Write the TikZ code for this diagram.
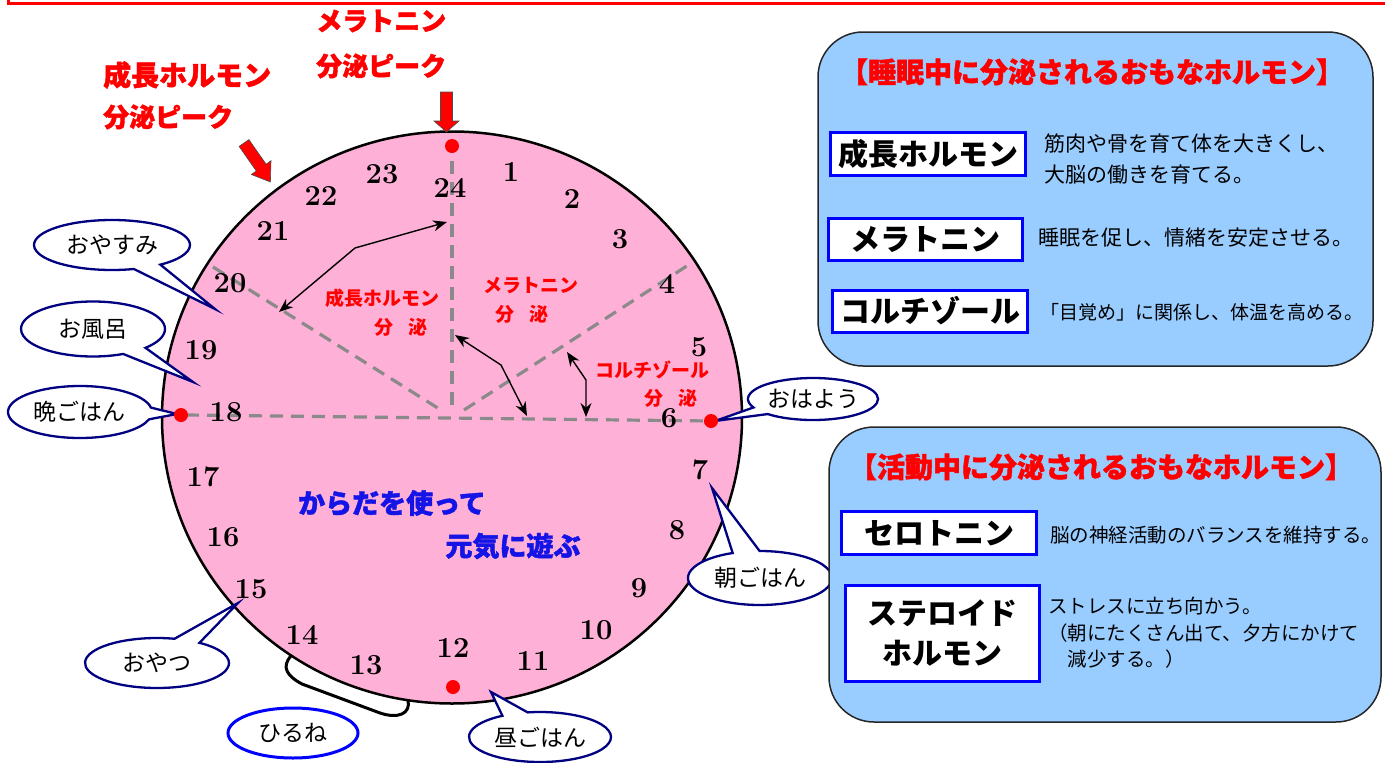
\documentclass[tikz,border=0pt]{standalone}
\usepackage{fontspec}
\newfontfamily\jp{Noto Sans CJK JP}
\newfontfamily\jph{Noto Sans CJK JP}[BoldFeatures={FakeBold=1.5}]
\usetikzlibrary{shapes.callouts,shapes.geometric,arrows.meta}
\definecolor{pinkfill}{RGB}{255,176,215}
\definecolor{navyb}{RGB}{0,0,128}
\definecolor{boxblue}{RGB}{153,204,255}
\definecolor{lblue}{RGB}{0,0,255}
\definecolor{dgray}{RGB}{138,138,138}
\definecolor{txtblue}{RGB}{20,20,230}
\definecolor{tred}{RGB}{255,0,0}
\begin{document}
\begin{tikzpicture}[x=1pt,y=-1pt,
  num/.style={font=\fontsize{29}{32}\selectfont\bfseries, inner sep=0pt},
  sector/.style={dgray, line width=3.2pt, dash pattern=on 13pt off 8pt},
  dblarrow/.style={black, line width=1.4pt, {Stealth[length=14pt,width=11pt]}-{Stealth[length=14pt,width=11pt]}},
  inlbl/.style={tred, font=\jp\bfseries\fontsize{19}{22}\selectfont, inner sep=0pt},
  redtitle/.style={tred, font=\jph\bfseries\fontsize{26}{30}\selectfont, inner sep=0pt, anchor=west},
  bubble/.style={ellipse callout, draw=navyb, fill=white, line width=2.3pt, callout pointer arc=22,
     font=\jp\fontsize{23}{26}\selectfont, inner sep=0pt},
  reddot/.style={circle, fill=tred, minimum size=14pt, inner sep=0pt},
  panel/.style={draw=black!85, fill=boxblue, line width=1.5pt, rounded corners=45pt},
  lbox/.style={draw=lblue, fill=white, line width=3pt, font=\jp\bfseries\fontsize{30}{34}\selectfont, inner sep=0pt},
  desc/.style={font=\jp\fontsize{21}{31}\selectfont, inner sep=0pt, anchor=west, align=left},
  ptitle/.style={tred, font=\jph\bfseries\fontsize{28}{30}\selectfont, inner sep=0pt}
]
\useasboundingbox (0,0) rectangle (1385,763);
% top red frame line
\draw[tred, line width=3pt] (8,0) -- (8,3) -- (1385,3);

% clock face
\draw[fill=pinkfill, line width=2.5pt] (452,417.5) ellipse [x radius=290pt, y radius=286pt];

% sector dashed lines
\draw[sector] (452,140) -- (452,410);
\draw[sector] (186,415) -- (711,421);
\draw[sector] (213,267) -- (441,410);
\draw[sector] (464,410) -- (693,262);

% double arrows
\coordinate (gh1) at (447,222); \coordinate (ghm) at (355,248); \coordinate (gh2) at (279,312);
\coordinate (me1) at (455,335); \coordinate (mem) at (501,365); \coordinate (me2) at (527,416);
\coordinate (co1) at (567,352); \coordinate (com) at (586,380); \coordinate (co2) at (586,417);
\draw[dblarrow] (gh1) -- (ghm) -- (gh2);
\draw[dblarrow] (me1) -- (mem) -- (me2);
\draw[dblarrow] (co1) -- (com) -- (co2);

% hour numbers
\node[num] (h24) at (450,188) {24};
\node[num] (h1) at (511,172) {1};
\node[num] (h2) at (572,199) {2};
\node[num] (h3) at (620,239) {3};
\node[num] (h4) at (667,284) {4};
\node[num] (h5) at (699,347) {5};
\node[num] (h6) at (669,418) {6};
\node[num] (h7) at (700,470) {7};
\node[num] (h8) at (677,530) {8};
\node[num] (h9) at (639,588) {9};
\node[num] (h10) at (596,630) {10};
\node[num] (h11) at (533,661) {11};
\node[num] (h12) at (453,648) {12};
\node[num] (h13) at (366,665) {13};
\node[num] (h14) at (302,635) {14};
\node[num] (h15) at (251,589) {15};
\node[num] (h16) at (223,537) {16};
\node[num] (h17) at (203,477) {17};
\node[num] (h18) at (226,412) {18};
\node[num] (h19) at (201,350) {19};
\node[num] (h20) at (230,283) {20};
\node[num] (h21) at (273,231) {21};
\node[num] (h22) at (321,196) {22};
\node[num] (h23) at (382,174) {23};

% labels inside clock
\node[inlbl] (lgh) at (382,298) {成長ホルモン};
\node[inlbl] (lgh2) at (401,327) {分\hspace{0.8em}泌};
\node[inlbl] (lme) at (531,286) {メラトニン};
\node[inlbl] (lme2) at (522,314) {分\hspace{0.8em}泌};
\node[inlbl] (lco) at (652,370) {コルチゾール};
\node[inlbl] (lco2) at (671,398) {分\hspace{0.8em}泌};
\node[txtblue, font=\jph\bfseries\fontsize{27}{30}\selectfont, inner sep=0pt] (play1) at (392,503) {からだを使って};
\node[txtblue, font=\jph\bfseries\fontsize{27}{30}\selectfont, inner sep=0pt] (play2) at (513,546) {元気に遊ぶ};

% red block arrows
\draw[fill=tred, draw=black!70, line width=0.6pt] (440.5,92) -- (452.5,92) -- (452.5,121) -- (459,121) -- (446.5,132) -- (434,121) -- (440.5,121) -- cycle;
\draw[fill=tred, draw=black!70, line width=0.6pt] (248.9,139.6) -- (266.1,164.2) -- (271.0,160.7) -- (270.4,182) -- (251.4,174.5) -- (256.3,171.0) -- (239.1,146.4) -- cycle;

% red peak titles
\node[redtitle] (tme1) at (316,21) {メラトニン};
\node[redtitle] (tme2) at (316,66) {分泌ピーク};
\node[redtitle, font=\jph\bfseries\fontsize{28}{30}\selectfont] (tgh1) at (103,75) {成長ホルモン};
\node[redtitle] (tgh2) at (103,117) {分泌ピーク};

% nap bracket
\draw[black, line width=3pt, line join=round] (291,656) .. controls (281,667) and (287,676) .. (302,684) -- (380,713) .. controls (398,719) and (411,714) .. (408,700);

% speech bubbles
\node[bubble, minimum width=156pt, minimum height=50pt, callout absolute pointer={(215,309)}] (oyasumi) at (112,245) {おやすみ};
\node[bubble, minimum width=144pt, minimum height=55pt, callout absolute pointer={(193,382)}] (ofuro) at (93,329) {お風呂};
\node[bubble, minimum width=144pt, minimum height=52pt, callout absolute pointer={(177,414)}, callout pointer arc=26] (ban) at (80,412) {晩ごはん};
\node[bubble, minimum width=118pt, minimum height=42pt, callout absolute pointer={(715,421)}] (ohayo) at (813,399) {おはよう};
\node[bubble, minimum width=144pt, minimum height=54pt, callout absolute pointer={(712,488)}] (asa) at (760,578) {朝ごはん};
\node[bubble, minimum width=144pt, minimum height=50pt, callout absolute pointer={(238,603)}] (oyatsu) at (157,663) {おやつ};
\node[bubble, minimum width=142pt, minimum height=50pt, callout absolute pointer={(491,692)}] (hiru) at (540,737) {昼ごはん};
\node[ellipse, draw=lblue, fill=white, line width=3pt, minimum width=130pt, minimum height=50pt, inner sep=0pt, font=\jp\fontsize{23}{26}\selectfont] (hirune) at (293,733) {ひるね};

% red dots
\node[reddot] (d24) at (452,146) {};
\node[reddot] (d18) at (181,415) {};
\node[reddot] (d6) at (711,421) {};
\node[reddot] (d12) at (453,687) {};

% right panel 1
\draw[panel] (818,32) rectangle (1373,366);
\node[ptitle] (p1t) at (1092,72) {【睡眠中に分泌されるおもなホルモン】};
\node[lbox, minimum width=195pt, minimum height=43pt] (bgh) at (928,154) {成長ホルモン};
\node[desc] (dgh) at (1044,159) {筋肉や骨を育て体を大きくし、\\大脳の働きを育てる。};
\node[lbox, minimum width=194pt, minimum height=42pt] (bme) at (925,239) {メラトニン};
\node[desc] (dme) at (1038,238) {睡眠を促し、情緒を安定させる。};
\node[lbox, minimum width=195pt, minimum height=42pt] (bco) at (930,311) {コルチゾール};
\node[desc, font=\jp\fontsize{19}{31}\selectfont] (dco) at (1040,312) {「目覚め」に関係し、体温を高める。};

% right panel 2
\draw[panel] (829,427) rectangle (1381,722);
\node[ptitle] (p2t) at (1101,467) {【活動中に分泌されるおもなホルモン】};
\node[lbox, minimum width=195pt, minimum height=43pt] (bse) at (939,533) {セロトニン};
\node[desc, font=\jp\fontsize{19.5}{31}\selectfont] (dse) at (1050,535) {脳の神経活動のバランスを維持する。};
\node[lbox, minimum width=194pt, minimum height=96pt, align=center, font=\jp\bfseries\fontsize{30}{40}\selectfont] (bst) at (942,633) {ステロイド\\ホルモン};
\node[desc, font=\jp\fontsize{19.5}{26.5}\selectfont] (dst) at (1048,633) {ストレスに立ち向かう。\\（朝にたくさん出て、夕方にかけて\\　減少する。）};
\end{tikzpicture}
\end{document}
